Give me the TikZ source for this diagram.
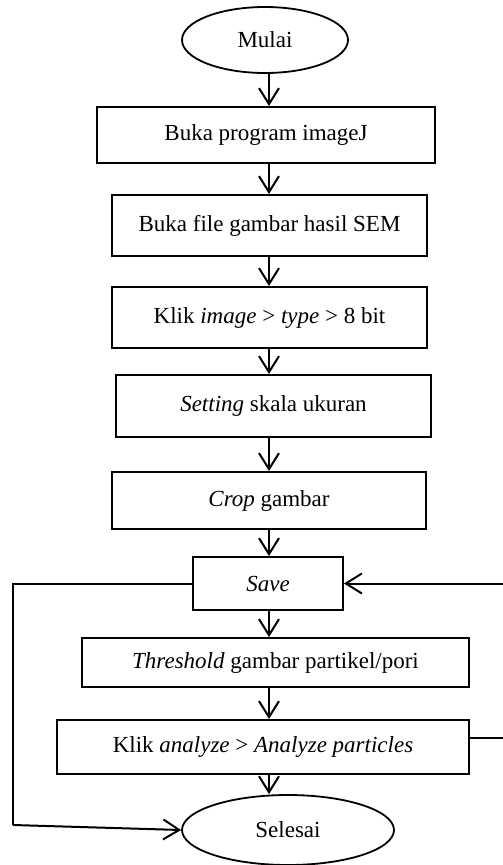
\documentclass[tikz,border=0pt]{standalone}
\usepackage{fontspec}
\setmainfont{Liberation Serif}
\usetikzlibrary{arrows.meta,shapes.geometric}
\begin{document}
\begin{tikzpicture}[x=1pt,y=-1pt,
  every node/.style={font=\fontsize{23}{26}\selectfont, inner sep=0pt},
  box/.style={draw, line width=2pt, rectangle},
  term/.style={draw, line width=1.8pt, ellipse},
  flow/.style={line width=2pt, -{Straight Barb[length=16pt,width=20pt,line width=2pt]}},
  link/.style={line width=2pt}]
\useasboundingbox (0,0) rectangle (503,865);
\node[term, minimum width=166pt, minimum height=66pt] (mulai) at (265,40) {Mulai};
\node[box, minimum width=338pt, minimum height=56pt] (b1) at (266,135) {Buka program imageJ};
\node[box, minimum width=315pt, minimum height=61pt] (b2) at (269.5,225.5) {Buka file gambar hasil SEM};
\node[box, minimum width=315pt, minimum height=61pt] (b3) at (269.5,317.5) {Klik \textit{image} > \textit{type} > 8 bit};
\node[box, minimum width=315pt, minimum height=62pt] (b4) at (273.5,406) {\textit{Setting} skala ukuran};
\node[box, minimum width=314pt, minimum height=57pt] (b5) at (269,500.5) {\textit{Crop} gambar};
\node[box, minimum width=150pt, minimum height=53pt] (save) at (268,583.5) {\textit{Save}};
\node[box, minimum width=387pt, minimum height=49pt] (b7) at (275.5,662.5) {\textit{Threshold} gambar partikel/pori};
\node[box, minimum width=412pt, minimum height=54pt] (b8) at (263,747) {Klik \textit{analyze} > \textit{Analyze particles}};
\node[term, minimum width=212pt, minimum height=70pt] (selesai) at (288,830) {Selesai};
\coordinate (col) at (269,0);
\coordinate (l1) at (13,583.5);
\coordinate (l2) at (13,825);
\coordinate (r1) at (507,738);
\coordinate (r2) at (507,583.5);
\draw[flow] (mulai.south -| col) -- (b1.north -| col);
\draw[flow] (b1.south -| col) -- (b2.north -| col);
\draw[flow] (b2.south -| col) -- (b3.north -| col);
\draw[flow] (b3.south -| col) -- (b4.north -| col);
\draw[flow] (b4.south -| col) -- (b5.north -| col);
\draw[flow] (b5.south -| col) -- (save.north -| col);
\draw[flow] (save.south -| col) -- (b7.north -| col);
\draw[flow] (b7.south -| col) -- (b8.north -| col);
\draw[flow] (b8.south -| col) -- (selesai.north -| col);
\draw[link] (save.west) -- (l1) -- (l2);
\draw[flow] (l2) -- (selesai.west);
\draw[link] (b8.east |- r1) -- (r1) -- (r2);
\draw[flow] (r2) -- (save.east);
\end{tikzpicture}
\end{document}
